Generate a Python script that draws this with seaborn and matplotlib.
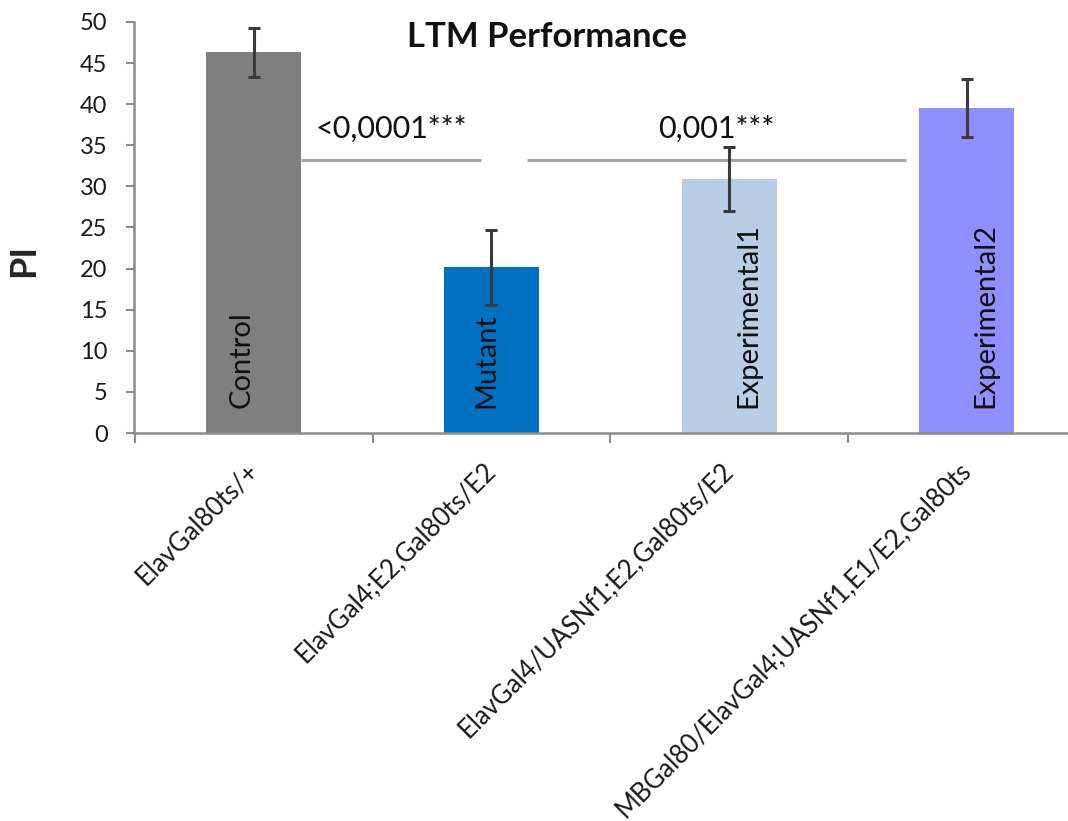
import matplotlib
matplotlib.use("Agg")
import matplotlib.pyplot as plt
import seaborn as sns
import pandas as pd

# Genotypes, short group names and LTM performance index (mean ± SEM)
genotypes = [
    "ElavGal80ts/+",
    "ElavGal4;E2,Gal80ts/E2",
    "ElavGal4/UASNf1;E2,Gal80ts/E2",
    "MBGal80/ElavGal4;UASNf1,E1/E2,Gal80ts",
]
groups = ["Control", "Mutant", "Experimental1", "Experimental2"]
pi_mean = [46.3, 20.15, 30.9, 39.5]
pi_sem = [3.0, 4.55, 3.85, 3.55]
bar_colors = ["#7f7f7f", "#0070c0", "#b9cde5", "#8f8fff"]

# Pairwise comparisons: bracket span (in category units), height and p-value text
sig_spans = [(0.2, 0.955), (1.15, 2.745)]
sig_level = 33.25
sig_texts = ["<0,0001***", "0,001***"]

sns.set_style("ticks")
plt.rcParams["font.family"] = ["Lato", "DejaVu Sans"]

df = pd.DataFrame({"genotype": genotypes, "PI": pi_mean, "group": groups})

fig = plt.figure(figsize=(10.68, 8.21), dpi=100)
ax = fig.add_axes([134 / 1068, (821 - 433) / 821, (1068 - 134) / 1068, (433 - 22) / 821])

sns.barplot(data=df, x="genotype", y="PI", hue="genotype", palette=bar_colors,
            width=0.4, legend=False, ax=ax, saturation=1, edgecolor="none",
            zorder=2)

ax.errorbar(range(len(pi_mean)), pi_mean, yerr=pi_sem, fmt="none",
            ecolor="#3a3a3a", elinewidth=2.2, capsize=4.5, capthick=2.2,
            zorder=4)

# Significance brackets
for (x0, x1), txt in zip(sig_spans, sig_texts):
    ax.plot([x0, x1], [sig_level, sig_level], color="#a6a6a6", lw=2.2,
            solid_capstyle="butt", zorder=3)
    ax.text((x0 + x1) / 2, sig_level + 2.0, txt, ha="center", va="bottom",
            fontsize=22, color="#111111", zorder=5)

# Group names written inside the bars
label_dx = [-0.05, -0.02, 0.08, 0.08]
for i, (name, dx) in enumerate(zip(groups, label_dx)):
    ax.text(i + dx, 3.0, name, rotation=90, ha="center", va="bottom",
            fontsize=21, color="#111111", zorder=5)

ax.set_xlim(-0.505, 3.427)
ax.set_ylim(0, 50)
ax.set_yticks(range(0, 51, 5))
ax.tick_params(axis="y", labelsize=17, length=6, width=1.5, color="#8c8c8c",
               pad=13, labelcolor="#1a1a1a")
ax.set_xticks(range(len(genotypes)))
ax.set_xticklabels(genotypes, rotation=45, ha="right", rotation_mode="anchor",
                   va="center", fontsize=18.5, color="#1a1a1a")
ax.tick_params(axis="x", length=0, pad=24)
ax.set_xticks([-0.5, 0.5, 1.5, 2.5], minor=True)
ax.tick_params(axis="x", which="minor", length=7, width=1.5, color="#8c8c8c")

for side in ["top", "right"]:
    ax.spines[side].set_visible(False)
for side in ["left", "bottom"]:
    ax.spines[side].set_color("#8c8c8c")
    ax.spines[side].set_linewidth(1.8)

ax.set_xlabel("")
ax.set_ylabel("PI", fontsize=26, fontweight="bold")
ax.yaxis.set_label_coords(-0.101, 0.42)

fig.text(547 / 1068, 1 - 37 / 821, "LTM Performance", ha="center", va="center",
         fontsize=25, fontweight="bold", color="#111111")

fig.savefig("out.png", dpi=100, facecolor="white")
